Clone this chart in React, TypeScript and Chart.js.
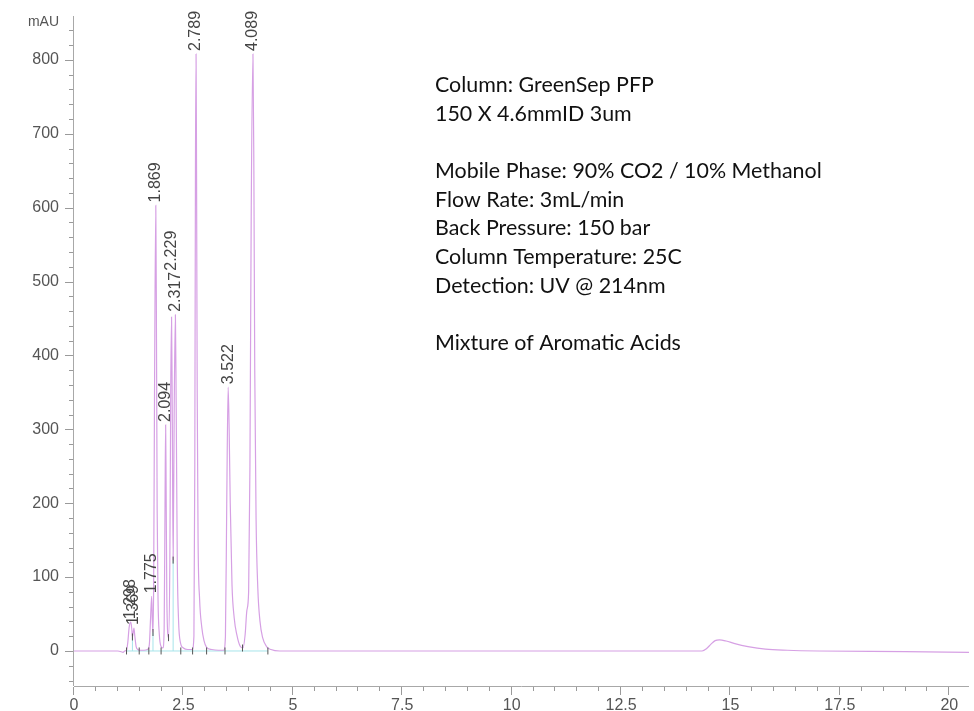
import React, { useEffect, useRef } from 'react';
import { Chart, registerables } from 'chart.js';

Chart.register(...registerables);

// Chromatogram trace (retention time in min, signal in mAU)
const traceTime = [
  0, 0.5, 1.0, 1.08, 1.12, 1.16, 1.2, 1.23, 1.26, 1.298, 1.32, 1.335, 1.35, 1.369, 1.39, 1.42, 1.46, 1.5,
  1.6, 1.68, 1.72, 1.75, 1.775, 1.79, 1.805, 1.82, 1.84, 1.869, 1.885, 1.9, 1.92, 1.95, 1.99,
  2.03, 2.06, 2.08, 2.094, 2.105, 2.12, 2.14, 2.16, 2.19, 2.21, 2.229, 2.245, 2.265, 2.29, 2.317, 2.335,
  2.36, 2.39, 2.43, 2.5, 2.6, 2.7, 2.74, 2.76, 2.775, 2.789, 2.8, 2.815, 2.835, 2.87, 2.92, 2.97, 3.03,
  3.15, 3.3, 3.42, 3.46, 3.49, 3.522, 3.545, 3.57, 3.61, 3.66, 3.72, 3.8, 3.86, 3.91, 3.95, 3.99, 4.02,
  4.05, 4.089, 4.11, 4.13, 4.16, 4.2, 4.25, 4.31, 4.4, 4.5, 4.7, 6, 10, 14.0, 14.35, 14.45, 14.55, 14.65,
  14.75, 14.9, 15.1, 15.4, 15.8, 16.3, 17.0, 19.0, 20.45,
];
const traceSignal = [
  0, 0, 0, -1, -2, 0, 1, 12, 32, 39, 30, 19, 24, 31, 20, 6, 2, 1,
  1, 2, 8, 45, 74, 40, 25, 90, 350, 603, 420, 190, 70, 22, 6,
  4, 30, 200, 306, 220, 80, 25, 18, 120, 350, 452, 330, 123, 330, 455, 330,
  120, 40, 12, 4, 2, 2, 20, 250, 650, 808, 650, 350, 150, 70, 32, 14, 5,
  2, 1, 1, 20, 200, 357, 300, 200, 90, 45, 22, 6, 4, 22, 55, 80, 250,
  600, 808, 650, 380, 180, 85, 40, 18, 6, 2, 0, 0, 0, 0, 0, 3, 9, 14,
  15, 13.5, 10, 6, 2.5, 1, 0, -1, -2,
];

// Labelled peaks
const peakTimes = [1.298, 1.369, 1.775, 1.869, 2.094, 2.229, 2.317, 2.789, 3.522, 4.089];
const peakHeights = [39, 31, 74, 603, 306, 452, 455, 808, 357, 808];
const peakLabels = ['1.298', '1.369', '1.775', '1.869', '2.094', '2.229', '2.317', '2.789', '3.522', '4.089'];

// Integration marks
const markTimes = [1.2, 1.335, 1.49, 1.71, 1.805, 1.99, 2.16, 2.265, 2.44, 2.71, 3.03, 3.45, 3.85, 4.43];
const markValues = [0, 19, 0, 0, 25, 0, 18, 123, 0, 0, 0, 0, 4, 0];

// Integration baseline and drop lines
const baselineStart = 1.2;
const baselineEnd = 4.43;
const dropTimes = [1.335, 1.805, 2.265];
const dropValues = [19, 25, 123];

// Axis ticks
const xLabelTicks = [0, 2.5, 5, 7.5, 10, 12.5, 15, 17.5, 20];
const yLabelTicks = [0, 100, 200, 300, 400, 500, 600, 700, 800];
const yUnitLabel = 'mAU';

const infoLines = [
  'Column: GreenSep PFP',
  '150 X 4.6mmID 3um',
  '',
  'Mobile Phase: 90% CO2 / 10% Methanol',
  'Flow Rate: 3mL/min',
  'Back Pressure: 150 bar',
  'Column Temperature: 25C',
  'Detection: UV @ 214nm',
  '',
  'Mixture of Aromatic Acids',
];

const stackedLabels: Record<string, string> = { '2.229': '2.317' };

const AXIS_FONT = '"Liberation Sans", Arial, sans-serif';

const overlayPlugin = {
  id: 'overlay',
  afterDatasetsDraw(chart: any) {
    const { ctx, chartArea } = chart;
    const xs = chart.scales.x;
    const ys = chart.scales.y;
    ctx.save();
    // axis lines
    ctx.strokeStyle = '#a8a8a8';
    ctx.lineWidth = 1;
    ctx.beginPath();
    ctx.moveTo(Math.round(chartArea.left) - 0.5, chartArea.top);
    ctx.lineTo(Math.round(chartArea.left) - 0.5, chartArea.bottom);
    ctx.moveTo(chartArea.left, Math.round(chartArea.bottom) + 0.5);
    ctx.lineTo(chartArea.right, Math.round(chartArea.bottom) + 0.5);
    ctx.stroke();
    // y tick marks
    ctx.strokeStyle = '#9a9a9a';
    ctx.beginPath();
    for (let v = -40; v <= ys.max; v += 20) {
      const y = Math.round(ys.getPixelForValue(v)) + 0.5;
      const len = v % 100 === 0 ? 8 : 4;
      ctx.moveTo(chartArea.left - 1, y);
      ctx.lineTo(chartArea.left - 1 - len, y);
    }
    // x tick marks
    for (let v = 0; v <= xs.max; v += 0.5) {
      const x = Math.round(xs.getPixelForValue(v)) - 0.5;
      const len = Math.abs(v / 2.5 - Math.round(v / 2.5)) < 1e-6 ? 8 : 4;
      ctx.moveTo(x, chartArea.bottom + 1);
      ctx.lineTo(x, chartArea.bottom + 1 + len);
    }
    ctx.stroke();

    // peak labels
    ctx.fillStyle = '#444';
    ctx.font = '16px ' + AXIS_FONT;
    ctx.textBaseline = 'middle';
    ctx.textAlign = 'left';
    const tops: Record<string, number> = {};
    const order = peakLabels.map((_, i) => i).sort((a, b) => {
      const sa = stackedLabels[peakLabels[a]] ? 1 : 0;
      const sb = stackedLabels[peakLabels[b]] ? 1 : 0;
      return sa - sb;
    });
    for (const i of order) {
      const label = peakLabels[i];
      const x = xs.getPixelForValue(peakTimes[i]);
      let yStart = ys.getPixelForValue(peakHeights[i]) - 3;
      const under = stackedLabels[label];
      if (under && tops[under] !== undefined) yStart = tops[under] - 1;
      const w = ctx.measureText(label).width;
      ctx.save();
      ctx.translate(x, yStart);
      ctx.rotate(-Math.PI / 2);
      ctx.fillText(label, 0, 0);
      ctx.restore();
      tops[label] = yStart - w;
    }

    // info text
    const fam = 'Lato, "Open Sans", sans-serif';
    ctx.font = '20px ' + fam;
    const ref = ctx.measureText(infoLines[3]).width;
    const size = (20 * 387) / ref;
    ctx.font = size.toFixed(2) + 'px ' + fam;
    ctx.fillStyle = '#111';
    ctx.textBaseline = 'middle';
    infoLines.forEach((line, i) => {
      if (line) ctx.fillText(line, 435, 85 + i * 28.7);
    });
    ctx.restore();
  },
};

export default function App() {
  const ref = useRef<HTMLCanvasElement>(null);
  useEffect(() => {
    const canvas = ref.current;
    if (!canvas) return;
    const trace = traceTime.map((t, i) => ({ x: t, y: traceSignal[i] }));
    const marks = markTimes.map((t, i) => ({ x: t, y: markValues[i] }));
    const drops = dropTimes.map((t, i) => ({
      type: 'line' as const,
      data: [{ x: t, y: 0 }, { x: t, y: dropValues[i] }],
      borderColor: '#a6e4ea',
      borderWidth: 1,
      pointRadius: 0,
      order: 3,
    }));
    const chart = new Chart(canvas, {
      type: 'line',
      data: {
        datasets: [
          {
            data: [{ x: baselineStart, y: 0 }, { x: baselineEnd, y: 0 }],
            borderColor: '#a6e4ea',
            borderWidth: 1,
            pointRadius: 0,
            order: 3,
          },
          ...drops,
          {
            data: trace,
            borderColor: 'rgb(214,160,228)',
            borderWidth: 1.2,
            pointRadius: 0,
            cubicInterpolationMode: 'monotone',
            order: 2,
          },
          {
            type: 'scatter',
            data: marks,
            pointStyle: 'line',
            rotation: 90,
            radius: 3.5,
            borderColor: '#555',
            borderWidth: 1,
            order: 1,
          } as any,
        ],
      },
      options: {
        animation: false,
        responsive: false,
        maintainAspectRatio: false,
        events: [],
        layout: { padding: { top: 16, right: 0, left: 0, bottom: 0 } },
        plugins: { legend: { display: false }, tooltip: { enabled: false } },
        scales: {
          x: {
            type: 'linear',
            min: 0,
            max: 20.45,
            afterBuildTicks: (s: any) => {
              s.ticks = xLabelTicks.map((v) => ({ value: v }));
            },
            afterFit: (s: any) => {
              s.height = 25;
            },
            ticks: {
              autoSkip: false,
              maxRotation: 0,
              padding: 2,
              color: '#555',
              font: { size: 16, family: AXIS_FONT },
              callback: (v: any) => String(v),
            },
            grid: { color: 'rgba(0,0,0,0)', drawOnChartArea: false, tickLength: 8 },
            border: { display: false },
          },
          y: {
            type: 'linear',
            min: -47.4,
            max: 859.4,
            afterBuildTicks: (s: any) => {
              s.ticks = [...yLabelTicks.map((v) => ({ value: v })), { value: 851 }];
            },
            afterFit: (s: any) => {
              s.width = 74;
            },
            ticks: {
              autoSkip: false,
              padding: 7,
              color: '#555',
              font: (c: any) => ({ size: c.tick && c.tick.value > 840 ? 14 : 16, family: AXIS_FONT }),
              callback: (v: any) => (Number(v) > 840 ? yUnitLabel : String(v)),
            },
            grid: { color: 'rgba(0,0,0,0)', drawOnChartArea: false, tickLength: 8 },
            border: { display: false },
          },
        },
      },
      plugins: [overlayPlugin],
    });
    return () => chart.destroy();
  }, []);
  return (
    <div style={{ position: 'fixed', left: 0, top: 0, width: 974, height: 711, background: '#fff' }}>
      <canvas ref={ref} width={974} height={711} style={{ width: 974, height: 711, display: 'block' }} />
    </div>
  );
}
